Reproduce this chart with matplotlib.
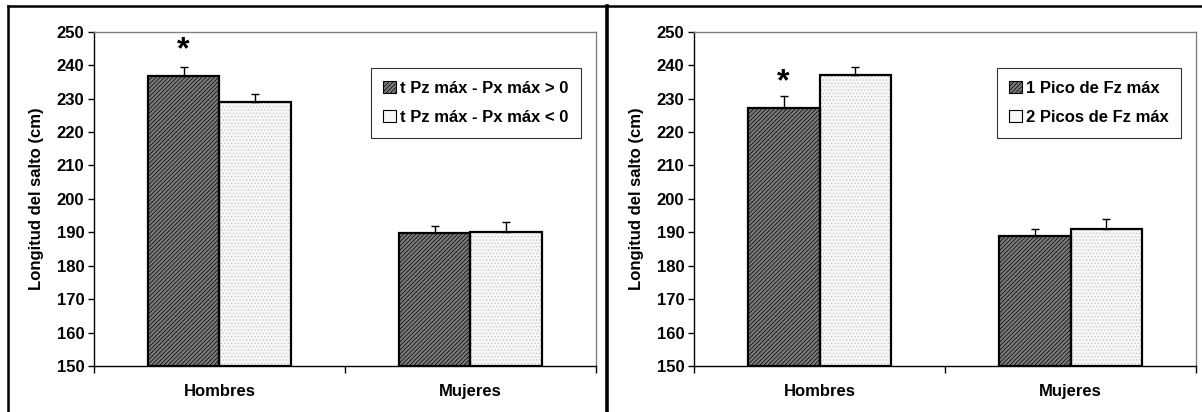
import numpy as np
import matplotlib
matplotlib.use('Agg')
import matplotlib.pyplot as plt
from matplotlib.patches import Patch
from matplotlib.lines import Line2D

plt.rcParams['font.family'] = ['Liberation Sans', 'DejaVu Sans']
plt.rcParams['font.weight'] = 'bold'
plt.rcParams['hatch.linewidth'] = 0.5

# datos
categorias = ['Hombres', 'Mujeres']

izq_mayor = [236.9, 189.8]      # t Pz máx - Px máx > 0
izq_mayor_err = [2.6, 2.0]
izq_menor = [228.9, 190.0]      # t Pz máx - Px máx < 0
izq_menor_err = [2.6, 3.1]
izq_etiquetas = ['t Pz máx - Px máx > 0', 't Pz máx - Px máx < 0']

der_un_pico = [227.1, 188.8]    # 1 Pico de Fz máx
der_un_pico_err = [3.6, 2.2]
der_dos_picos = [237.1, 191.1]  # 2 Picos de Fz máx
der_dos_picos_err = [2.2, 2.8]
der_etiquetas = ['1 Pico de Fz máx', '2 Picos de Fz máx']

y_ticks = [150, 160, 170, 180, 190, 200, 210, 220, 230, 240, 250]

fig = plt.figure(figsize=(12.02, 4.12), dpi=100)

ancho = 0.286
oscuro = '#7a7a7a'
claro = '#f7f7f7'
fs = 12


def panel(ax, serie1, err1, serie2, err2, etiquetas):
    x = np.arange(len(categorias))
    # serie oscura con rayado diagonal
    ax.bar(x - ancho / 2, np.array(serie1) - 150, ancho, bottom=150,
           facecolor=oscuro, edgecolor='black', hatch='////////', linewidth=0, zorder=2)
    ax.bar(x - ancho / 2, np.array(serie1) - 150, ancho, bottom=150,
           facecolor='none', edgecolor='black', linewidth=1.6, zorder=3)
    # serie clara punteada
    ax.bar(x + ancho / 2, np.array(serie2) - 150, ancho, bottom=150,
           facecolor=claro, edgecolor='#c4c4c4', hatch='.....', linewidth=0, zorder=2)
    ax.bar(x + ancho / 2, np.array(serie2) - 150, ancho, bottom=150,
           facecolor='none', edgecolor='black', linewidth=1.6, zorder=3)
    # barras de error (solo hacia arriba)
    ax.errorbar(x - ancho / 2, serie1, yerr=[np.zeros(len(err1)), err1], fmt='none',
                ecolor='black', elinewidth=1, capsize=3, capthick=1, zorder=4)
    ax.errorbar(x + ancho / 2, serie2, yerr=[np.zeros(len(err2)), err2], fmt='none',
                ecolor='black', elinewidth=1, capsize=3, capthick=1, zorder=4)

    ax.set_xlim(-0.5, 1.5)
    ax.set_ylim(150, 250)
    ax.set_yticks(y_ticks)
    ax.tick_params(axis='y', labelsize=fs, length=4, width=1, direction='out', pad=3)
    ax.set_xticks([-0.5, 0.5, 1.5])
    ax.set_xticklabels([])
    ax.tick_params(axis='x', which='major', length=5, width=1, direction='out')
    ax.set_xticks(x, minor=True)
    ax.set_xticklabels(categorias, minor=True)
    ax.tick_params(axis='x', which='minor', length=0, labelsize=fs, pad=13)
    for lab in ax.get_xticklabels(minor=True) + ax.get_yticklabels():
        lab.set_fontweight('bold')

    ax.set_ylabel('Longitud del salto (cm)', fontsize=fs, fontweight='bold', labelpad=9)
    ax.spines['left'].set_linewidth(1)
    ax.spines['bottom'].set_linewidth(1)
    for s in ['top', 'right']:
        ax.spines[s].set_color('#808080')
        ax.spines[s].set_linewidth(1)

    handles = [Patch(facecolor=oscuro, edgecolor='black', hatch='////////', linewidth=0.8),
               Patch(facecolor=claro, edgecolor='black', linewidth=0.8)]
    leg = ax.legend(handles, etiquetas, loc='upper right', bbox_to_anchor=(0.97, 0.89),
                    prop={'size': fs, 'weight': 'bold'}, frameon=True, fancybox=False,
                    edgecolor='black', handlelength=0.75, handleheight=0.75,
                    handletextpad=0.25, labelspacing=0.85, borderpad=0.75, borderaxespad=0)
    leg.get_frame().set_linewidth(0.8)


ax1 = fig.add_axes([0.0782, 0.1117, 0.4176, 0.8113])
panel(ax1, izq_mayor, izq_mayor_err, izq_menor, izq_menor_err, izq_etiquetas)
ax1.annotate('*', xy=(0 - ancho / 2, izq_mayor[0] + izq_mayor_err[0]), xytext=(0, 12),
             textcoords='offset points', ha='center', va='center', fontsize=23, fontweight='bold')

ax2 = fig.add_axes([0.5774, 0.1117, 0.4176, 0.8113])
panel(ax2, der_un_pico, der_un_pico_err, der_dos_picos, der_dos_picos_err, der_etiquetas)
ax2.annotate('*', xy=(0 - ancho / 2, der_un_pico[0] + der_un_pico_err[0]), xytext=(0, 10),
             textcoords='offset points', ha='center', va='center', fontsize=23, fontweight='bold')

# marco exterior
W, H = 1202, 412
fig.add_artist(Line2D([8 / W, 1], [1 - 6 / H, 1 - 6 / H], color='black', linewidth=1.8,
                      transform=fig.transFigure))
fig.add_artist(Line2D([8 / W, 8 / W], [0, 1 - 6 / H], color='black', linewidth=1.8,
                      transform=fig.transFigure))
fig.add_artist(Line2D([607 / W, 607 / W], [0, 1 - 6 / H], color='black', linewidth=2.6,
                      transform=fig.transFigure))

fig.savefig('out.png', dpi=100)
